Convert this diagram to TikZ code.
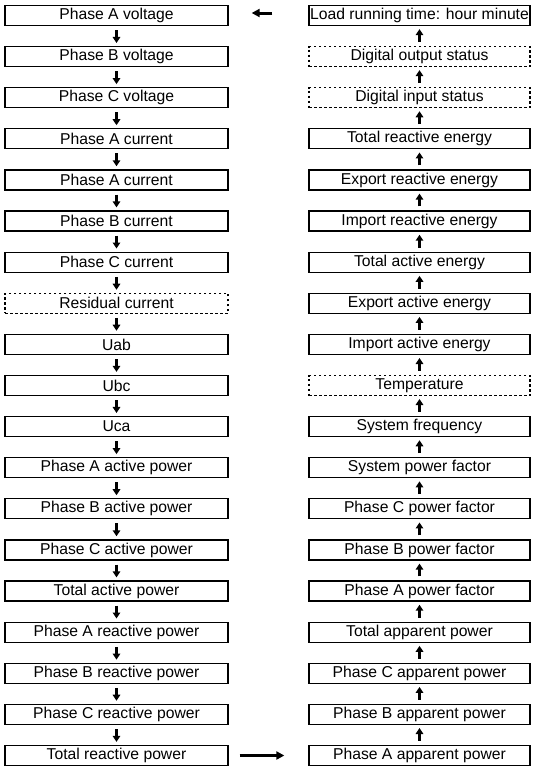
\documentclass[tikz,border=0pt]{standalone}
\usepackage{fontspec}
\setmainfont{Liberation Sans}
\usetikzlibrary{arrows.meta}
\begin{document}
\begin{tikzpicture}[x=1pt,y=-1pt,
 box/.style={draw,line width=1.3pt,minimum width=223pt,minimum height=20pt,inner sep=0pt,font=\fontsize{15.7}{18}\selectfont},
 rbox/.style={box,minimum width=221pt},
 dbox/.style={dash pattern=on 2.5pt off 2.5pt,line width=1.1pt},
 varrow/.style={line width=2.6pt,-{Triangle[length=6pt,width=7.5pt]},shorten <=4pt,shorten >=3pt},
 harrow/.style={line width=3pt,-{Triangle[length=8pt,width=8pt]}}]
\useasboundingbox (0,0) rectangle (533,769);
\def\lx{116.5}
\def\rx{419.5}
\def\sp{41.111}
\node[box] (l0) at (\lx,{15.5+0*\sp}) {Phase A voltage};
\node[box] (l1) at (\lx,{15.5+1*\sp}) {Phase B voltage};
\node[box] (l2) at (\lx,{15.5+2*\sp}) {Phase C voltage};
\node[box] (l3) at (\lx,{15.5+3*\sp}) {Phase A current};
\node[box] (l4) at (\lx,{15.5+4*\sp}) {Phase A current};
\node[box] (l5) at (\lx,{15.5+5*\sp}) {Phase B current};
\node[box] (l6) at (\lx,{15.5+6*\sp}) {Phase C current};
\node[box,dbox] (l7) at (\lx,{15.5+7*\sp}) {Residual current};
\node[box] (l8) at (\lx,{15.5+8*\sp}) {Uab};
\node[box] (l9) at (\lx,{15.5+9*\sp}) {Ubc};
\node[box] (l10) at (\lx,{15.5+10*\sp}) {Uca};
\node[box] (l11) at (\lx,{15.5+11*\sp}) {Phase A active power};
\node[box] (l12) at (\lx,{15.5+12*\sp}) {Phase B active power};
\node[box] (l13) at (\lx,{15.5+13*\sp}) {Phase C active power};
\node[box] (l14) at (\lx,{15.5+14*\sp}) {Total active power};
\node[box] (l15) at (\lx,{15.5+15*\sp}) {Phase A reactive power};
\node[box] (l16) at (\lx,{15.5+16*\sp}) {Phase B reactive power};
\node[box] (l17) at (\lx,{15.5+17*\sp}) {Phase C reactive power};
\node[box] (l18) at (\lx,{15.5+18*\sp}) {Total reactive power};
\node[rbox] (r0) at (\rx,{15.5+0*\sp}) {Load running time: hour minute};
\node[rbox,dbox] (r1) at (\rx,{15.5+1*\sp}) {Digital output status};
\node[rbox,dbox] (r2) at (\rx,{15.5+2*\sp}) {Digital input status};
\node[rbox] (r3) at (\rx,{15.5+3*\sp}) {Total reactive energy};
\node[rbox] (r4) at (\rx,{15.5+4*\sp}) {Export reactive energy};
\node[rbox] (r5) at (\rx,{15.5+5*\sp}) {Import reactive energy};
\node[rbox] (r6) at (\rx,{15.5+6*\sp}) {Total active energy};
\node[rbox] (r7) at (\rx,{15.5+7*\sp}) {Export active energy};
\node[rbox] (r8) at (\rx,{15.5+8*\sp}) {Import active energy};
\node[rbox,dbox] (r9) at (\rx,{15.5+9*\sp}) {Temperature};
\node[rbox] (r10) at (\rx,{15.5+10*\sp}) {System frequency};
\node[rbox] (r11) at (\rx,{15.5+11*\sp}) {System power factor};
\node[rbox] (r12) at (\rx,{15.5+12*\sp}) {Phase C power factor};
\node[rbox] (r13) at (\rx,{15.5+13*\sp}) {Phase B power factor};
\node[rbox] (r14) at (\rx,{15.5+14*\sp}) {Phase A power factor};
\node[rbox] (r15) at (\rx,{15.5+15*\sp}) {Total apparent power};
\node[rbox] (r16) at (\rx,{15.5+16*\sp}) {Phase C apparent power};
\node[rbox] (r17) at (\rx,{15.5+17*\sp}) {Phase B apparent power};
\node[rbox] (r18) at (\rx,{15.5+18*\sp}) {Phase A apparent power};
\foreach \i [evaluate=\i as \j using int(\i+1)] in {0,...,17} {
  \draw[varrow] (l\i.south) -- (l\j.north);
  \draw[varrow] (r\j.north) -- (r\i.south);
}
\draw[harrow,shorten <=36pt,shorten >=23pt] ([yshift=2.5pt]r0.west) -- ([yshift=2.5pt]l0.east);
\draw[harrow,shorten <=11pt,shorten >=24pt] (l18.east) -- (r18.west);
\end{tikzpicture}
\end{document}
